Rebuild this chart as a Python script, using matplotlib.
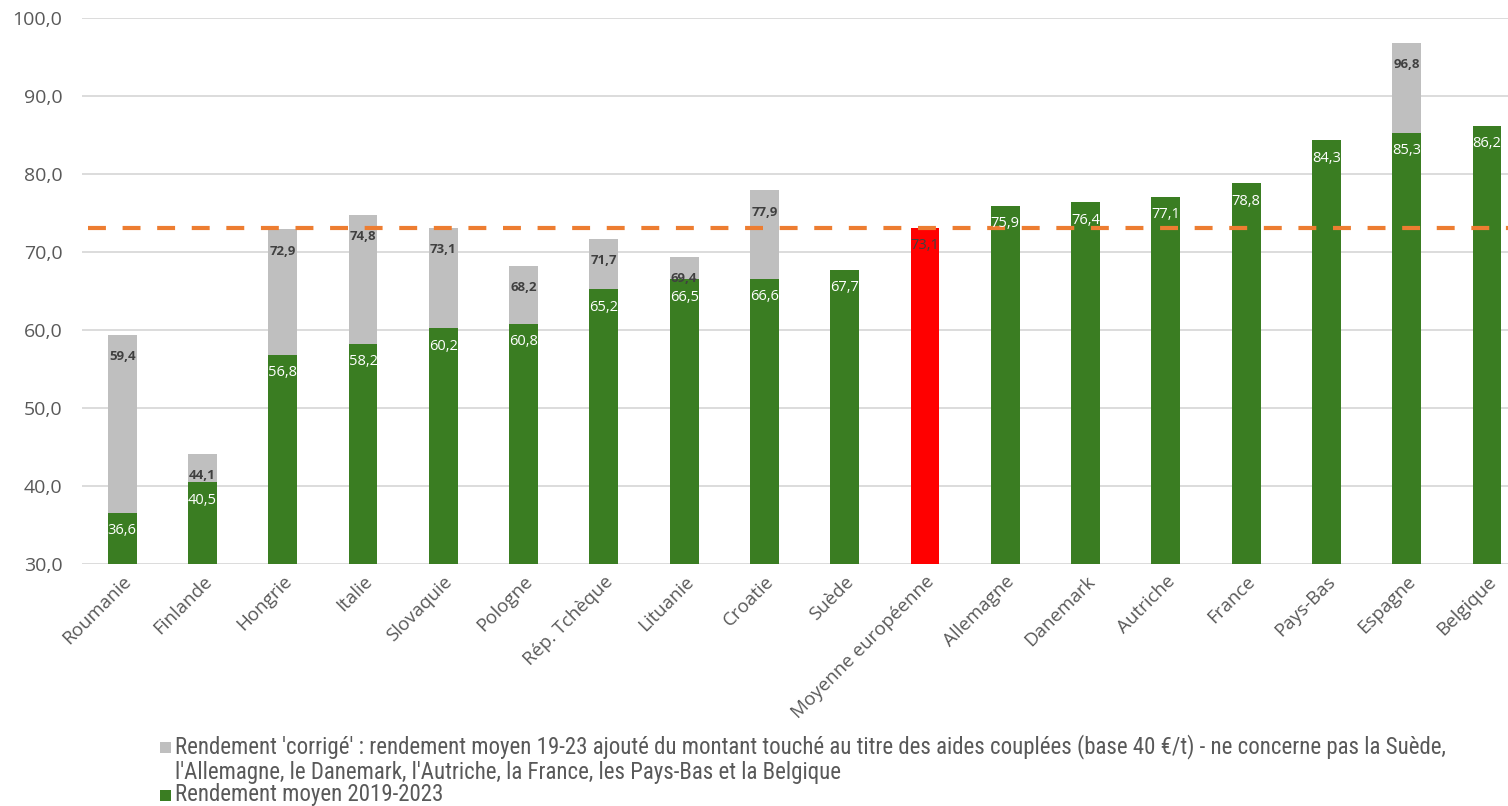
import matplotlib
matplotlib.use('Agg')
import matplotlib.pyplot as plt
import numpy as np
from matplotlib.patches import Rectangle
from matplotlib import font_manager

GREEN = '#3a7d22'
GREY = '#bfbfbf'
RED = '#ff0000'
ORANGE = '#ed7d31'
GRID = '#d9d9d9'
TXT = '#595959'
DARK = '#404040'

pays = ['Roumanie', 'Finlande', 'Hongrie', 'Italie', 'Slovaquie', 'Pologne',
        'Rép. Tchèque', 'Lituanie', 'Croatie', 'Suède', 'Moyenne européenne',
        'Allemagne', 'Danemark', 'Autriche', 'France', 'Pays-Bas', 'Espagne',
        'Belgique']
rendement = [36.6, 40.5, 56.8, 58.2, 60.2, 60.8, 65.2, 66.5, 66.6, 67.7, 73.1,
             75.9, 76.4, 77.1, 78.8, 84.3, 85.3, 86.2]
corrige = [59.4, 44.1, 72.9, 74.8, 73.1, 68.2, 71.7, 69.4, 77.9, None, None,
           None, None, None, None, None, 96.8, None]
moyenne_ue = 73.1
idx_moyenne = pays.index('Moyenne européenne')

legende_gris = ["Rendement 'corrigé' : rendement moyen 19-23 ajouté du montant touché au titre des aides couplées (base 40 €/t) - ne concerne pas la Suède,",
                "l'Allemagne, le Danemark, l'Autriche, la France, les Pays-Bas et la Belgique"]
legende_vert = 'Rendement moyen 2019-2023'

names = {f.name for f in font_manager.fontManager.ttflist}
narrow = 'Liberation Sans Narrow' if 'Liberation Sans Narrow' in names else 'Roboto Condensed' if 'Roboto Condensed' in names else 'Liberation Sans'
plt.rcParams['font.family'] = ['Open Sans', 'DejaVu Sans']

fig = plt.figure(figsize=(15.08, 8.06), dpi=100)
ax = fig.add_axes([82 / 1508, 1 - 564 / 806, 1 - 82 / 1508, (564 - 18) / 806])

x = np.arange(len(pays))
w = 0.36
base = 30

# grey 'corrected' bars behind the green ones
for i, v in enumerate(corrige):
    if v is None:
        continue
    ax.bar(x[i], v - base, bottom=base, width=w, color=GREY, zorder=2)
    ax.text(x[i], v - 2.8, f'{v:.1f}'.replace('.', ','), ha='center', va='center',
            fontsize=9.5, fontweight='bold', color=DARK, zorder=5)

colors = [RED if i == idx_moyenne else GREEN for i in range(len(pays))]
ax.bar(x, np.array(rendement) - base, bottom=base, width=w, color=colors, zorder=3)
for i, v in enumerate(rendement):
    c = DARK if i == idx_moyenne else 'white'
    ax.text(x[i], v - 2.3, f'{v:.1f}'.replace('.', ','), ha='center', va='center',
            fontsize=10.5, color=c, zorder=5)

ax.axhline(moyenne_ue, xmin=0.004, color=ORANGE, lw=3, ls=(0, (4.3, 4)), zorder=4)

ax.set_ylim(30, 100)
ax.set_xlim(-0.5, 17 + 21 / 80.3)
ax.set_yticks(np.arange(30, 101, 10))
ax.set_yticklabels([f'{t:.1f}'.replace('.', ',') for t in np.arange(30, 101, 10)],
                   fontsize=14, color=TXT)
ax.yaxis.grid(True, color=GRID, lw=1.3, zorder=0)
ax.set_axisbelow(True)
for s in ax.spines.values():
    s.set_visible(False)
ax.tick_params(axis='both', length=0)
ax.tick_params(axis='y', pad=14)
ax.tick_params(axis='x', pad=6)
ax.set_xticks(x)
ax.set_xticklabels(pays, rotation=45, ha='right', rotation_mode='anchor',
                   fontsize=13.5, color=TXT)

# legend drawn by hand: square aligned with the first line of each entry
sq = 11
for y_px, col in [(747, GREY), (795, GREEN)]:
    fig.patches.append(Rectangle((160 / 1508, 1 - (y_px + sq / 2) / 806), sq / 1508, sq / 806,
                                 transform=fig.transFigure, facecolor=col, edgecolor='none'))
lignes = [(747, legende_gris[0]), (773, legende_gris[1]), (795, legende_vert)]
for y_px, t in lignes:
    fig.text(175 / 1508, 1 - y_px / 806, t, ha='left', va='center',
             family=narrow, fontsize=16.5, color=TXT)

fig.savefig('out.png', dpi=100)
